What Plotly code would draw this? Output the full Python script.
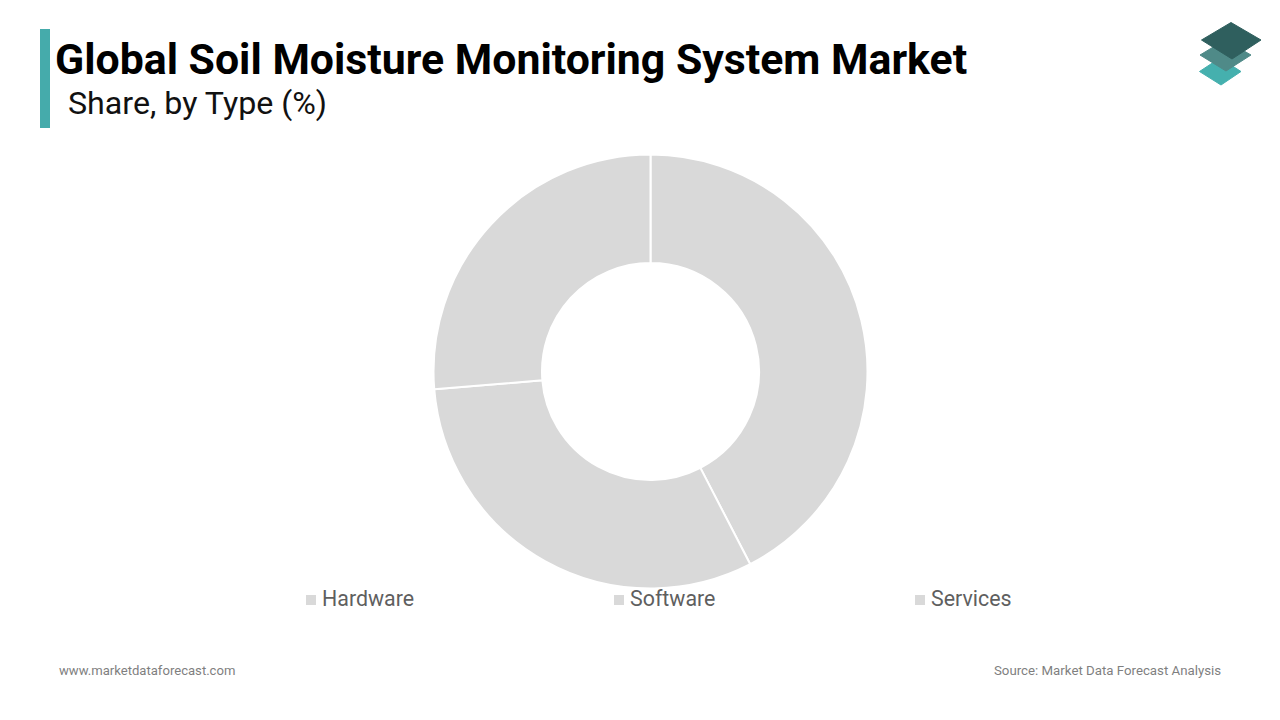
import plotly.graph_objects as go

# Slice shares
types = ['Hardware', 'Software', 'Services']
shares = [42.4, 31.3, 26.3]

title_text = 'Global Soil Moisture Monitoring System Market'
subtitle_text = 'Share, by Type (%)'
site_text = 'www.marketdataforecast.com'
source_text = 'Source: Market Data Forecast Analysis'

W, H = 1280, 720
SLICE_COLOR = '#D9D9D9'
ACCENT = '#45ABAB'
LEGEND_X = [306, 614, 915]
LEGEND_Y = 599


def fx(x):
    return x / W


def fy(y):
    return 1 - y / H


def diamond(pts, color):
    path = 'M' + ' L'.join(f'{fx(x):.5f},{fy(y):.5f}' for x, y in pts) + ' Z'
    return dict(type='path', path=path, xref='paper', yref='paper',
                fillcolor=color, line=dict(color=color, width=1), layer='above')


def label(x, y, text, size, color, anchor='left', bold=False):
    return dict(x=fx(x), y=fy(y), xref='paper', yref='paper', text=f'<b>{text}</b>' if bold else text,
                showarrow=False, xanchor=anchor, yanchor='middle',
                font=dict(family='Roboto', size=size, color=color))


fig = go.Figure(go.Pie(
    labels=types, values=shares, hole=0.5, sort=False, direction='clockwise', rotation=0,
    marker=dict(colors=[SLICE_COLOR] * 3, line=dict(color='white', width=2)),
    textinfo='none', showlegend=False,
    domain=dict(x=[fx(433.5), fx(867.5)], y=[fy(588.5), fy(154.5)])
))

shapes = [
    dict(type='rect', xref='paper', yref='paper', x0=fx(40), x1=fx(50), y0=fy(128), y1=fy(29),
         fillcolor=ACCENT, line=dict(width=0)),
    # logo, back to front
    diamond([(1199.5, 71.5), (1220, 58), (1241, 71.5), (1221, 85)], '#45B0AE'),
    diamond([(1200, 55), (1225, 40), (1251, 55), (1226, 71)], '#4F8A88'),
    diamond([(1201.5, 40), (1231, 22.5), (1261, 40), (1232, 59)], '#2F5F5E'),
]
annotations = [
    label(53, 59, title_text, 42.8, '#000000', bold=True),
    label(66, 103, subtitle_text, 32.2, '#111111'),
    label(57, 670, site_text, 13.1, '#7F7F7F'),
    label(1223, 670, source_text, 13.25, '#7F7F7F', anchor='right'),
]
for name, x in zip(types, LEGEND_X):
    shapes.append(dict(type='rect', xref='paper', yref='paper', x0=fx(x), x1=fx(x + 10),
                       y0=fy(LEGEND_Y + 6), y1=fy(LEGEND_Y - 4), fillcolor=SLICE_COLOR, line=dict(width=0)))
    annotations.append(label(x + 14, LEGEND_Y - 0.5, name, 21.4, '#5F5F5F'))

fig.update_layout(
    width=W, height=H, margin=dict(l=0, r=0, t=0, b=0),
    paper_bgcolor='white', plot_bgcolor='white',
    font=dict(family='Roboto'),
    shapes=shapes, annotations=annotations
)

# the page's default body margin would push everything 8px down and right
fig.write_html("out.html", config=dict(displayModeBar=False),
               post_script="document.body.style.margin = '0';")
